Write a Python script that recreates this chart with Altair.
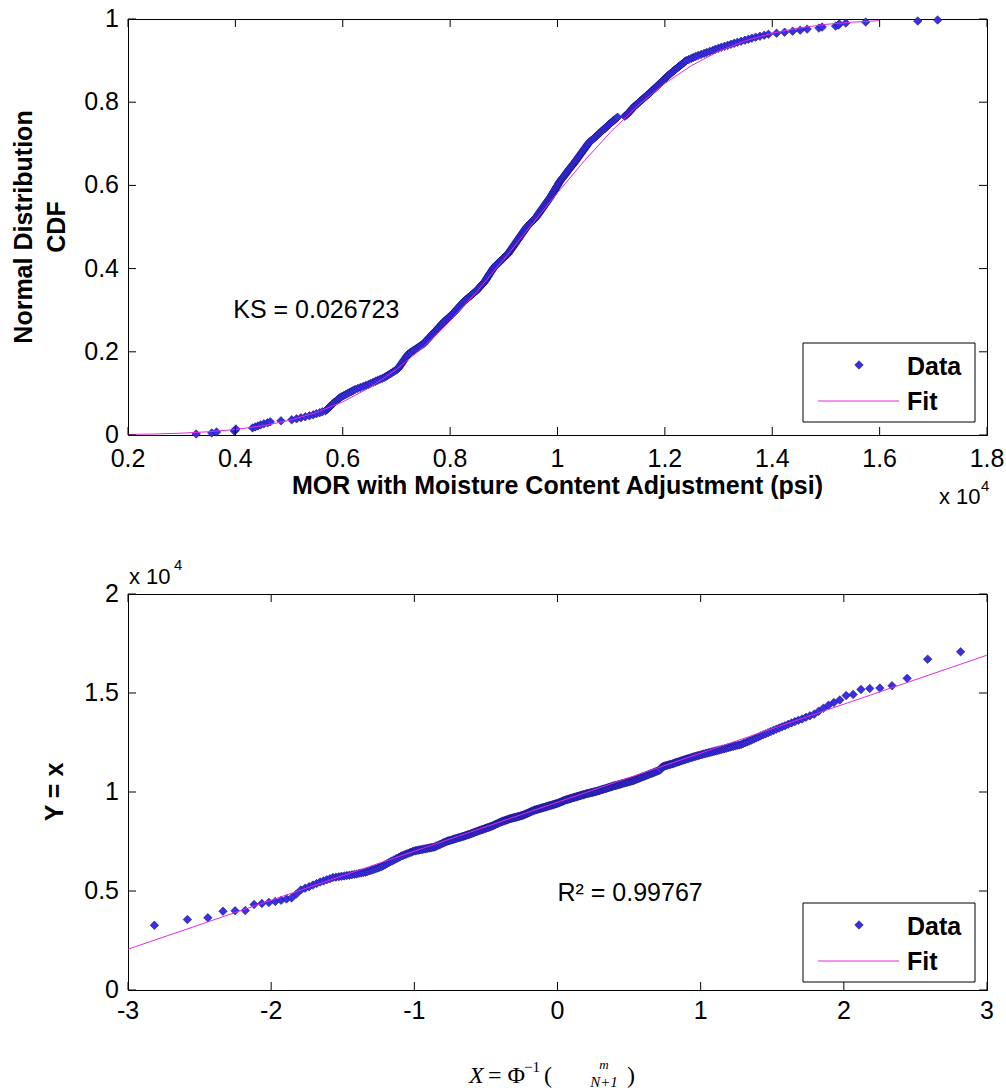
import altair as alt
import pandas as pd
from statistics import NormalDist

# ---------------- data ----------------
# sorted MOR sample (psi), N = 410
mor_psi = [3270, 3560, 3650, 3980, 4000, 4010, 4320, 4370, 4420, 4470,
           4530, 4600, 4650, 4850, 5050, 5140, 5220, 5300, 5380, 5450,
           5510, 5570, 5620, 5680, 5700, 5720, 5740, 5760, 5780, 5800,
           5820, 5840, 5860, 5890, 5910, 5930, 5950, 5985, 6020, 6055,
           6090, 6125, 6160, 6195, 6230, 6280, 6330, 6380, 6430, 6480,
           6520, 6565, 6610, 6650, 6695, 6740, 6780, 6810, 6840, 6870,
           6900, 6930, 6960, 6990, 7020, 7035, 7050, 7060, 7075, 7090,
           7100, 7115, 7130, 7140, 7155, 7170, 7180, 7195, 7210, 7220,
           7250, 7275, 7305, 7330, 7360, 7390, 7415, 7445, 7470, 7500,
           7520, 7535, 7555, 7570, 7590, 7610, 7625, 7645, 7660, 7680,
           7695, 7715, 7730, 7750, 7765, 7780, 7800, 7815, 7835, 7850,
           7870, 7890, 7910, 7930, 7950, 7970, 7990, 8010, 8030, 8050,
           8070, 8085, 8105, 8120, 8140, 8155, 8175, 8190, 8210, 8225,
           8245, 8260, 8280, 8300, 8325, 8345, 8370, 8390, 8410, 8435,
           8455, 8480, 8500, 8515, 8535, 8550, 8565, 8585, 8600, 8615,
           8635, 8650, 8660, 8675, 8685, 8700, 8710, 8720, 8735, 8745,
           8760, 8770, 8785, 8795, 8810, 8820, 8840, 8860, 8880, 8900,
           8920, 8940, 8960, 8980, 9000, 9020, 9040, 9060, 9080, 9095,
           9105, 9120, 9130, 9145, 9160, 9170, 9185, 9200, 9210, 9225,
           9235, 9250, 9265, 9275, 9290, 9300, 9315, 9330, 9340, 9355,
           9370, 9380, 9395, 9405, 9420, 9440, 9455, 9475, 9490, 9510,
           9530, 9545, 9565, 9580, 9600, 9615, 9625, 9640, 9655, 9665,
           9680, 9695, 9705, 9720, 9735, 9745, 9760, 9775, 9785, 9800,
           9815, 9825, 9840, 9855, 9865, 9880, 9890, 9905, 9915, 9925,
           9935, 9950, 9960, 9970, 9980, 9995, 10005, 10015, 10025, 10040,
           10050, 10065, 10080, 10095, 10110, 10125, 10140, 10155, 10170, 10180,
           10195, 10210, 10225, 10240, 10255, 10270, 10285, 10300, 10315, 10330,
           10340, 10355, 10370, 10385, 10395, 10410, 10425, 10440, 10450, 10465,
           10480, 10495, 10505, 10520, 10535, 10550, 10560, 10575, 10590, 10610,
           10630, 10655, 10675, 10695, 10715, 10735, 10760, 10780, 10800, 10820,
           10840, 10860, 10885, 10905, 10925, 10945, 10965, 10985, 11010, 11030,
           11050, 11080, 11100, 11120, 11250, 11280, 11300, 11320, 11335, 11350,
           11370, 11385, 11400, 11420, 11440, 11460, 11485, 11505, 11525, 11545,
           11570, 11590, 11610, 11630, 11655, 11675, 11695, 11715, 11740, 11760,
           11780, 11800, 11820, 11840, 11860, 11880, 11900, 11920, 11940, 11960,
           11980, 12000, 12020, 12040, 12060, 12080, 12100, 12125, 12145, 12170,
           12190, 12215, 12240, 12260, 12285, 12310, 12330, 12355, 12375, 12400,
           12445, 12490, 12530, 12575, 12620, 12675, 12730, 12780, 12835, 12890,
           12940, 12995, 13050, 13110, 13170, 13230, 13290, 13350, 13420, 13490,
           13555, 13620, 13690, 13770, 13850, 13930, 14080, 14230, 14380, 14520,
           14650, 14870, 14930, 15180, 15230, 15250, 15370, 15740, 16710, 17080]

# fitted normal CDF curve (top panel)
fit_cdf_x = [2000, 2500, 3000, 3500, 4000, 4500, 5000, 5500, 6000, 6500,
             7000, 7500, 8000, 8500, 9000, 9500, 10000, 10500, 11000, 11500,
             12000, 12500, 13000, 13500, 14000, 14500, 15000, 15500, 16000]
fit_cdf_p = [0.0013, 0.0024, 0.0044, 0.0078, 0.0133, 0.0220, 0.0350, 0.0537, 0.0796, 0.1139,
             0.1577, 0.2113, 0.2743, 0.3453, 0.4223, 0.5024, 0.5824, 0.6591, 0.7297, 0.7922,
             0.8452, 0.8884, 0.9222, 0.9476, 0.9659, 0.9786, 0.9871, 0.9925, 0.9958]

# straight fit line of the probability plot (bottom panel)
qq_fit_x = [-3, 3]
qq_fit_y = [2060, 16910]

# ticks and their labels
top_xticks = [2000, 4000, 6000, 8000, 10000, 12000, 14000, 16000, 18000]
top_xlabels = ["0.2", "0.4", "0.6", "0.8", "1", "1.2", "1.4", "1.6", "1.8"]
top_yticks = [0, 0.2, 0.4, 0.6, 0.8, 1]
top_ylabels = ["0", "0.2", "0.4", "0.6", "0.8", "1"]
bot_xticks = [-3, -2, -1, 0, 1, 2, 3]
bot_xlabels = ["-3", "-2", "-1", "0", "1", "2", "3"]
bot_yticks = [0, 5000, 10000, 15000, 20000]
bot_ylabels = ["0", "0.5", "1", "1.5", "2"]

ks_text = "KS = 0.026723"
r2_text = "R\u00b2 = 0.99767"

# ---------------- derived plotting positions ----------------
N = len(mor_psi)
ranks = list(range(1, N + 1))
pos = [m / (N + 1) for m in ranks]
zq = [NormalDist().inv_cdf(p) for p in pos]
df = pd.DataFrame({"mor": mor_psi, "p": pos, "z": zq})
fit_top = pd.DataFrame({"fx": fit_cdf_x, "fp": fit_cdf_p})
fit_bot = pd.DataFrame({"qx": qq_fit_x, "qy": qq_fit_y})
one = pd.DataFrame({"k": [0]})

W, H1, H2 = 859, 416, 396
FONT = "Liberation Sans"
SERIF = "Liberation Serif"
FS = 25
DATA_FILL = "#3a2fe4"
DATA_EDGE = "#16137e"
FIT = "#e02ce0"
MSIZE = 72
MSW = 0.6
TL = 8  # inward tick length


def tick_layers(xvals, xlabs, yvals, ylabs, w, h, xlab_off):
    tx = pd.DataFrame({"tv": xvals, "lab": xlabs})
    ty = pd.DataFrame({"tw": yvals, "lab": ylabs})
    b = alt.Chart(tx).mark_rule(color="black", strokeWidth=1).encode(
        x=alt.X("tv:Q", axis=None), y=alt.value(h), y2=alt.value(h - TL))
    t = alt.Chart(tx).mark_rule(color="black", strokeWidth=1).encode(
        x=alt.X("tv:Q", axis=None), y=alt.value(0), y2=alt.value(TL))
    l = alt.Chart(ty).mark_rule(color="black", strokeWidth=1).encode(
        y=alt.Y("tw:Q", axis=None), x=alt.value(0), x2=alt.value(TL))
    r = alt.Chart(ty).mark_rule(color="black", strokeWidth=1).encode(
        y=alt.Y("tw:Q", axis=None), x=alt.value(w), x2=alt.value(w - TL))
    xl = alt.Chart(tx).mark_text(font=FONT, fontSize=FS, align="center", baseline="middle",
                                 color="black").encode(
        x=alt.X("tv:Q", axis=None), y=alt.value(h + xlab_off), text="lab:N")
    yl = alt.Chart(ty).mark_text(font=FONT, fontSize=FS, align="right", baseline="middle",
                                 color="black").encode(
        y=alt.Y("tw:Q", axis=None), x=alt.value(-9), text="lab:N")
    return [b, t, l, r, xl, yl]


def legend_layers(y0):
    box = alt.Chart(one).mark_rect(fill="white", stroke="black", strokeWidth=1).encode(
        x=alt.value(675), x2=alt.value(847), y=alt.value(y0), y2=alt.value(y0 + 79))
    mk = alt.Chart(one).mark_point(shape="diamond", filled=True, fill=DATA_FILL, stroke=DATA_EDGE,
                                   strokeWidth=MSW, size=MSIZE, opacity=1).encode(
        x=alt.value(731), y=alt.value(y0 + 22))
    ln = alt.Chart(one).mark_rule(color=FIT, strokeWidth=1).encode(
        x=alt.value(690), x2=alt.value(771), y=alt.value(y0 + 58))
    t1 = alt.Chart(one).mark_text(text="Data", font=FONT, fontSize=FS, fontWeight="bold",
                                  align="left", baseline="middle", color="black").encode(
        x=alt.value(779), y=alt.value(y0 + 24))
    t2 = alt.Chart(one).mark_text(text="Fit", font=FONT, fontSize=FS, fontWeight="bold",
                                  align="left", baseline="middle", color="black").encode(
        x=alt.value(779), y=alt.value(y0 + 59))
    return [box, mk, ln, t1, t2]


def txt(text, x, y, size=FS, weight="normal", align="left", angle=0, font=FONT, style="normal",
        line_height=None):
    kw = dict(text=text, font=font, fontSize=size, fontWeight=weight, align=align,
              baseline="middle", color="black", fontStyle=style)
    if angle:
        kw["angle"] = angle
    if line_height:
        kw["lineHeight"] = line_height
    return alt.Chart(one).mark_text(**kw).encode(x=alt.value(x), y=alt.value(y))


# ---------------- top panel: CDF ----------------
xs1 = alt.Scale(domain=[2000, 18000], nice=False, zero=False)
ys1 = alt.Scale(domain=[0, 1], nice=False, zero=False)

anchor = alt.Chart(one).mark_point(opacity=0, size=1).encode(x=alt.value(-127), y=alt.value(-18))

pts1 = alt.Chart(df).mark_point(shape="diamond", filled=True, fill=DATA_FILL, stroke=DATA_EDGE,
                                strokeWidth=MSW, size=MSIZE, opacity=1).encode(
    x=alt.X("mor:Q", scale=xs1, axis=None),
    y=alt.Y("p:Q", scale=ys1, axis=None))
fit1 = alt.Chart(fit_top).mark_line(color=FIT, strokeWidth=1).encode(
    x=alt.X("fx:Q", axis=None), y=alt.Y("fp:Q", axis=None))
ks = alt.Chart(one).mark_text(text=ks_text, font=FONT, fontSize=FS, align="left",
                              baseline="middle", color="black").encode(
    x=alt.XDatum(3960, axis=None), y=alt.YDatum(0.30, axis=None))

top_layers = ([anchor, pts1, fit1, ks]
              + tick_layers(top_xticks, top_xlabels, top_yticks, top_ylabels, W, H1, 24)
              + legend_layers(324)
              + [txt(["Normal Distribution", "CDF"], -104, H1 / 2, weight="bold", align="center",
                     angle=270, line_height=33),
                 txt("MOR with Moisture Content Adjustment (psi)", W / 2, 467, weight="bold",
                     align="center"),
                 txt("x 10", 811, 478, size=22),
                 txt("4", 853, 467, size=15)])
top = alt.layer(*top_layers).properties(width=W, height=H1)

# ---------------- bottom panel: probability plot ----------------
xs2 = alt.Scale(domain=[-3, 3], nice=False, zero=False)
ys2 = alt.Scale(domain=[0, 20000], nice=False, zero=False)

pts2 = alt.Chart(df).mark_point(shape="diamond", filled=True, fill=DATA_FILL, stroke=DATA_EDGE,
                                strokeWidth=MSW, size=MSIZE, opacity=1).encode(
    x=alt.X("z:Q", scale=xs2, axis=None),
    y=alt.Y("mor:Q", scale=ys2, axis=None))
fit2 = alt.Chart(fit_bot).mark_line(color=FIT, strokeWidth=1).encode(
    x=alt.X("qx:Q", axis=None), y=alt.Y("qy:Q", axis=None))
r2 = alt.Chart(one).mark_text(text=r2_text, font=FONT, fontSize=FS, align="left",
                              baseline="middle", color="black").encode(
    x=alt.XDatum(0.0, axis=None), y=alt.YDatum(4900, axis=None))

bot_layers = ([pts2, fit2, r2]
              + tick_layers(bot_xticks, bot_xlabels, bot_yticks, bot_ylabels, W, H2, 21)
              + legend_layers(309)
              + [txt("Y = x", -73, H2 / 2, weight="bold", align="center", angle=270),
                 txt("x 10", 1, -17, size=22),
                 txt("4", 46, -29, size=15),
                 # x-axis title  X = Phi^-1( m / (N+1) )
                 txt("X", 341, 482, size=24, font=SERIF, style="italic"),
                 txt("= \u03a6", 360, 482, size=24, font=SERIF),
                 txt("\u22121", 396, 473, size=15, font=SERIF),
                 txt("(", 416, 482, size=24, font=SERIF),
                 txt("m", 476, 471, size=13, font=SERIF, style="italic", align="center"),
                 txt("N+1", 476, 488, size=15, font=SERIF, style="italic", align="center"),
                 txt(")", 499, 482, size=24, font=SERIF)])
bottom = alt.layer(*bot_layers).properties(width=W, height=H2)

chart = alt.vconcat(top, bottom, spacing=159, bounds="flush").properties(
    padding=0, background="white"
).configure_view(stroke="black", strokeWidth=1)

chart.save("out.html", embed_options={"renderer": "svg", "actions": False})
